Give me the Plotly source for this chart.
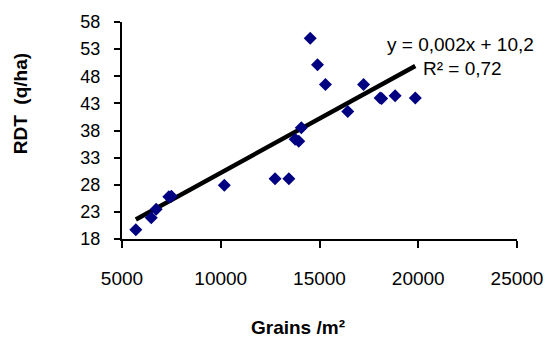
import plotly.graph_objects as go

grains = [5700, 6480, 6730, 7370, 7500, 10180, 12750, 13450, 13770, 13950, 14080,
          14530, 14900, 15300, 16430, 17230, 18070, 18150, 18830, 19850]
rdt = [19.7, 21.9, 23.5, 25.8, 25.9, 27.9, 29.1, 29.1, 36.4, 36.0, 38.5,
       55.0, 50.1, 46.5, 41.5, 46.5, 44.0, 43.9, 44.4, 44.0]
slope = 0.002
intercept = 10.2
r2_label = "R² = 0,72"
eq_label = "y = 0,002x + 10,2"
x_ticks = [5000, 10000, 15000, 20000, 25000]
y_ticks = [18, 23, 28, 33, 38, 43, 48, 53, 58]

trend_x = [min(grains), max(grains)]
trend_y = [slope * v + intercept for v in trend_x]

font = "Liberation Sans, Arial, sans-serif"

fig = go.Figure()
fig.add_trace(go.Scatter(x=trend_x, y=trend_y, mode="lines",
                         line=dict(color="black", width=4.5), hoverinfo="skip"))
fig.add_trace(go.Scatter(x=grains, y=rdt, mode="markers",
                         marker=dict(symbol="diamond", size=10, color="#000080",
                                     line=dict(width=0))))

fig.update_layout(
    width=555, height=338,
    margin=dict(l=122, r=33, t=22, b=99),
    paper_bgcolor="white", plot_bgcolor="white",
    showlegend=False,
    font=dict(family=font, size=18, color="black"),
    xaxis=dict(range=[5000, 25000], tickvals=x_ticks, ticktext=[str(v) for v in x_ticks],
               showgrid=False, zeroline=False, showline=True, linecolor="black", linewidth=2,
               ticks="outside", ticklen=7, tickwidth=2, tickcolor="black",
               ticklabelstandoff=14,
               tickfont=dict(size=19, family=font)),
    yaxis=dict(range=[18, 58], tickvals=y_ticks, ticktext=[str(v) for v in y_ticks],
               showgrid=False, zeroline=False, showline=True, linecolor="black", linewidth=2,
               ticks="outside", ticklen=6, tickwidth=2, tickcolor="black",
               ticklabelstandoff=10,
               tickfont=dict(size=18, family=font)),
    annotations=[
        dict(text=eq_label, xref="paper", yref="paper", x=(388 - 122) / 400, y=(239 - 44) / 217,
             xanchor="left", yanchor="middle", showarrow=False,
             font=dict(size=19, family=font, color="black")),
        dict(text=r2_label, xref="paper", yref="paper", x=(425 - 122) / 400, y=(239 - 69) / 217,
             xanchor="left", yanchor="middle", showarrow=False,
             font=dict(size=19, family=font, color="black")),
        dict(text="<b>Grains /m²</b>", xref="paper", yref="paper", x=(300 - 122) / 400,
             y=(239 - 327) / 217, xanchor="center", yanchor="middle", showarrow=False,
             font=dict(size=19, family=font, color="black")),
        dict(text="<b>RDT  (q/ha)</b>", xref="paper", yref="paper", x=(19 - 122) / 400,
             y=(239 - 104) / 217, xanchor="center", yanchor="middle", showarrow=False,
             textangle=-90, font=dict(size=19, family=font, color="black")),
    ],
)

fig.write_html("out.html")
